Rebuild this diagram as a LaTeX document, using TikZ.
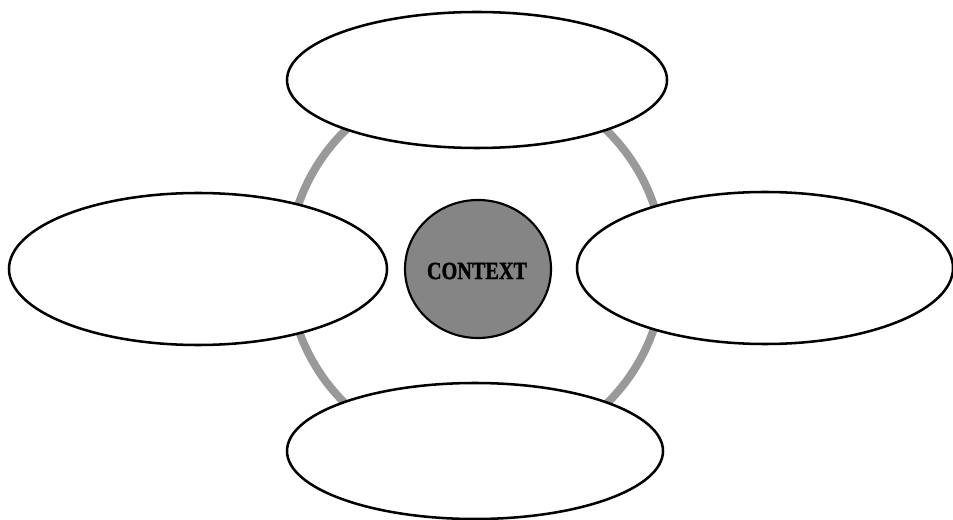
\documentclass[tikz,border=0pt]{standalone}
\usepackage{fontspec}
\setmainfont{Liberation Serif}
\newfontfamily\heavyserif[FakeBold=1.6]{Liberation Serif Bold}
\begin{document}
\begin{tikzpicture}[x=0.75pt,y=-0.75pt,
  bubble/.style={draw=black,line width=1.9pt,fill=white},
  ring/.style={draw=black!40,line width=6pt},
  hub/.style={draw=black,line width=1.6pt,fill=black!48}]
\useasboundingbox (0,0) rectangle (953,520);
% gray ring
\draw[ring] (476,267) ellipse [x radius=188, y radius=190];
% outer bubbles
\draw[bubble] (477,80) ellipse [x radius=190, y radius=68];
\draw[bubble] (475,451) ellipse [x radius=188, y radius=68];
\draw[bubble] (198,269) ellipse [x radius=189, y radius=76];
\draw[bubble] (765,268) ellipse [x radius=188, y radius=76];
% central hub
\draw[hub] (478,269) ellipse [x radius=73, y radius=69];
\node[font=\fontsize{18.5pt}{21pt}\selectfont\heavyserif,text=black,xscale=0.82,inner sep=0pt] (ctx) at (477,271) {CONTEXT};
\end{tikzpicture}
\end{document}
